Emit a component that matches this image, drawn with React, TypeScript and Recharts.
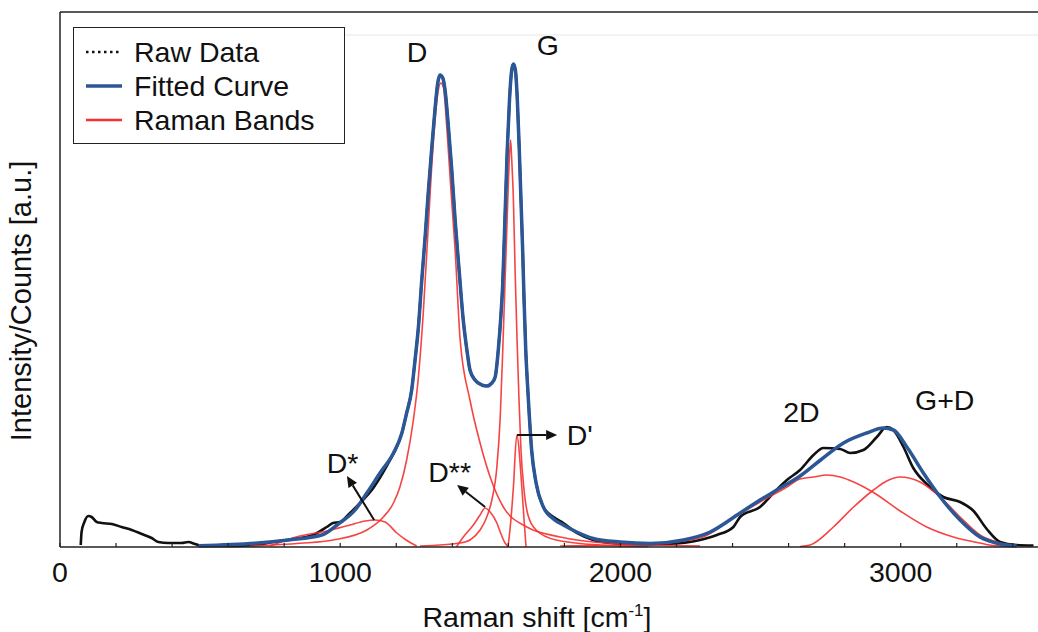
import { LineChart, Line, XAxis, YAxis, Legend, ReferenceLine, ReferenceDot } from "recharts";

const FONT = "'Liberation Sans', Arial, Helvetica, sans-serif";
const FS = 28.5;

// x axis: Raman shift in cm-1, minor tick every 200, label every 1000
const shiftTicks = [0, 200, 400, 600, 800, 1000, 1200, 1400, 1600, 1800, 2000, 2200, 2400, 2600, 2800, 3000, 3200, 3400];
const labelledTicks = [0, 1000, 2000, 3000];

// measured spectrum
const rawShift = [74, 77, 87, 101, 113, 131, 149, 185, 220, 256, 292, 327, 351, 387, 434, 458, 482, 506, 607, 696, 760, 832, 903, 952, 974, 999, 1035, 1071, 1118, 1178, 1202, 1220, 1237, 1255, 1267, 1279, 1291, 1303, 1314, 1327, 1338, 1348, 1356, 1366, 1374, 1386, 1398, 1410, 1425, 1439, 1452, 1463, 1481, 1505, 1523, 1541, 1553, 1564, 1573, 1580, 1588, 1596, 1604, 1612, 1618, 1625, 1632, 1639, 1645, 1651, 1656, 1662, 1668, 1675, 1683, 1699, 1725, 1761, 1796, 1844, 1903, 1963, 2070, 2165, 2284, 2344, 2403, 2427, 2498, 2546, 2594, 2641, 2689, 2724, 2784, 2820, 2867, 2915, 2950, 2974, 3010, 3045, 3093, 3152, 3212, 3260, 3307, 3355, 3414, 3474];
const rawCounts = [2, 15, 25, 31, 30, 25, 24, 23, 20, 17, 13, 9, 5, 4, 4, 5, 3, 1, 1, 2, 5, 8, 12, 20, 24, 25, 34, 44, 59, 87, 100, 114, 134, 157, 187, 220, 267, 310, 354, 400, 437, 464, 472, 469, 457, 420, 377, 327, 274, 227, 197, 177, 167, 162, 161, 164, 170, 197, 230, 264, 330, 397, 447, 477, 483, 477, 447, 397, 347, 297, 247, 197, 164, 130, 97, 64, 40, 30, 24, 14, 7, 4, 2.5, 3, 7, 12, 20, 30, 40, 54, 67, 77, 92, 99, 98, 94, 97, 110, 120, 117, 100, 79, 63, 50, 45, 36, 18, 5, 2, 1.5];

// fitted curve (sum of bands)
const fitShift = [494, 696, 815, 934, 993, 1053, 1095, 1142, 1190, 1220, 1237, 1255, 1267, 1279, 1291, 1303, 1314, 1327, 1338, 1348, 1356, 1366, 1374, 1386, 1398, 1410, 1425, 1439, 1452, 1463, 1481, 1505, 1523, 1541, 1553, 1564, 1573, 1580, 1588, 1596, 1604, 1612, 1618, 1625, 1632, 1639, 1645, 1651, 1656, 1662, 1668, 1675, 1683, 1699, 1725, 1761, 1796, 1844, 1903, 1999, 2106, 2225, 2320, 2427, 2498, 2558, 2641, 2712, 2796, 2879, 2938, 2974, 3022, 3081, 3141, 3212, 3283, 3355, 3414];
const fitCounts = [1.3, 3.7, 7, 12, 23, 37, 54, 74, 94, 114, 134, 157, 187, 220, 267, 310, 354, 400, 437, 464, 472, 469, 457, 420, 377, 327, 274, 227, 197, 177, 167, 162, 161, 164, 170, 197, 230, 264, 330, 397, 447, 477, 483, 477, 447, 397, 347, 297, 247, 197, 164, 130, 97, 64, 40, 28, 22, 15, 8.5, 5, 3.5, 7, 15, 34, 47, 57, 71, 86.5, 104, 114, 119, 117, 100, 74, 50, 27, 10, 3, 1];

// Raman bands
const dStarShift = [749, 856, 952, 1035, 1089, 1124, 1160, 1202, 1235, 1273];
const dStarCounts = [1, 11, 16, 22, 26, 27, 25, 14, 7, 1];

const dShift = [678, 856, 975, 1095, 1154, 1190, 1213, 1237, 1261, 1279, 1297, 1314, 1332, 1350, 1359, 1368, 1381, 1395, 1410, 1428, 1463, 1499, 1535, 1582, 1666, 1785, 1963, 2284];
const dCounts = [1, 3.7, 7, 17, 30, 44, 60, 87, 127, 170, 237, 320, 404, 457, 464, 460, 417, 357, 297, 207, 147, 104, 70, 40, 20, 10, 3.7, 1];

const dDoubleStarShift = [1415, 1439, 1475, 1499, 1517, 1535, 1559, 1571, 1588, 1599];
const dDoubleStarCounts = [0.3, 10, 22, 32, 39, 35, 24, 15, 4, 0.5];

const gShift = [1285, 1428, 1463, 1499, 1523, 1541, 1559, 1571, 1580, 1588, 1594, 1600, 1608, 1612, 1618, 1624, 1631, 1638, 1645, 1656, 1670, 1699, 1770, 1927, 2100];
const gCounts = [1, 4, 7, 17, 30, 47, 80, 130, 197, 264, 314, 364, 407, 387, 347, 277, 207, 147, 97, 57, 32, 17, 7, 2, 0.5];

const dPrimeShift = [1599, 1609, 1618, 1630, 1648, 1656, 1663];
const dPrimeCounts = [0.3, 27, 60, 112, 60, 27, 0.3];

const twoDShift = [1785, 2106, 2284, 2403, 2498, 2594, 2641, 2689, 2736, 2784, 2832, 2903, 2998, 3093, 3188, 3283, 3331, 3391];
const twoDCounts = [1, 3, 9, 29, 45, 60, 68, 70, 72, 70, 65, 54.5, 36, 20, 10, 4, 1.5, 0.5];

const gPlusDShift = [2641, 2677, 2760, 2832, 2903, 2950, 2998, 3069, 3141, 3212, 3283, 3355, 3402];
const gPlusDCounts = [0.5, 2, 20, 40, 57, 66, 70, 65, 50, 30, 12, 4, 1];

const zip = (xs: number[], ys: number[]) => xs.map((x, i) => ({ x, y: ys[i] }));

const bands = [
  zip(dStarShift, dStarCounts),
  zip(dShift, dCounts),
  zip(dDoubleStarShift, dDoubleStarCounts),
  zip(gShift, gCounts),
  zip(dPrimeShift, dPrimeCounts),
  zip(twoDShift, twoDCounts),
  zip(gPlusDShift, gPlusDCounts),
];

// band names written on the plot (x, y in data units, text starts there)
const bandLabels = [
  { text: "D", x: 1237, y: 485 },
  { text: "G", x: 1701, y: 492 },
  { text: "D*", x: 952, y: 74 },
  { text: "D**", x: 1314, y: 65 },
  { text: "D'", x: 1808, y: 102 },
  { text: "2D", x: 2581, y: 125 },
  { text: "G+D", x: 3051, y: 137 },
];

const arrows = [
  { x1: 1121, y1: 27, x2: 1024, y2: 71 },
  { x1: 1517, y1: 40, x2: 1417, y2: 62 },
  { x1: 1631, y1: 112, x2: 1774, y2: 112 },
];

const legendOrder = ["Raw Data", "Fitted Curve", "Raman Bands"];

const RAW = "#111";
const FIT = "#2b5797";
const BAND = "#f5302f";

function ShiftTick(props: any) {
  const { x, y, payload } = props;
  const major = labelledTicks.includes(payload.value);
  return (
    <g>
      <line x1={x} x2={x} y1={y} y2={y - 4} stroke="#222" strokeWidth={1.2} />
      {major && (
        <text x={x} y={y + 35} textAnchor="middle" fontSize={FS} fontFamily={FONT} fill="#111">
          {payload.value}
        </text>
      )}
    </g>
  );
}

function ArrowShape(props: any) {
  const { x1, y1, x2, y2 } = props;
  const ang = Math.atan2(y2 - y1, x2 - x1);
  const len = 11;
  const half = 5;
  const bx = x2 - len * Math.cos(ang);
  const by = y2 - len * Math.sin(ang);
  const px = -Math.sin(ang) * half;
  const py = Math.cos(ang) * half;
  return (
    <g>
      <line x1={x1} y1={y1} x2={bx} y2={by} stroke="#111" strokeWidth={2} />
      <polygon points={`${x2},${y2} ${bx + px},${by + py} ${bx - px},${by - py}`} fill="#111" />
    </g>
  );
}

function LegendBox(props: any) {
  const items = (props.payload || [])
    .filter((it: any) => legendOrder.includes(it.value))
    .sort((a: any, b: any) => legendOrder.indexOf(a.value) - legendOrder.indexOf(b.value));
  return (
    <div
      style={{
        width: 272,
        height: 117,
        boxSizing: "border-box",
        border: "1.5px solid #222",
        background: "#fff",
        paddingTop: 7,
        paddingLeft: 12,
        fontFamily: FONT,
        fontSize: FS,
        color: "#111",
      }}
    >
      {items.map((it: any) => (
        <div key={it.value} style={{ display: "flex", alignItems: "center", height: 34 }}>
          <svg width={36} height={8} style={{ marginRight: 12 }}>
            <line
              x1={0}
              x2={36}
              y1={4}
              y2={4}
              stroke={it.color}
              strokeWidth={it.value === "Fitted Curve" ? 3.5 : 2.5}
              strokeDasharray={it.value === "Raw Data" ? "2.5 3.5" : undefined}
            />
          </svg>
          <span>{it.value}</span>
        </div>
      ))}
    </div>
  );
}

export default function App() {
  return (
    <div style={{ position: "absolute", left: 0, top: 0, width: 1038, height: 632, overflow: "hidden", background: "#fff" }}>
      <LineChart width={1038} height={632} margin={{ top: 12, right: 0, bottom: 0, left: 59 }}>
        <XAxis
          type="number"
          dataKey="x"
          domain={[0, 3490]}
          ticks={shiftTicks}
          interval={0}
          allowDataOverflow
          height={85}
          tickSize={0}
          tickMargin={0}
          tickLine={false}
          tick={<ShiftTick />}
          axisLine={{ stroke: "#222", strokeWidth: 1.5 }}
          label={{
            content: (p: any) => {
              const vb = p.viewBox;
              return (
                <text x={vb.x + vb.width / 2 - 12} y={vb.y + 80} textAnchor="middle" fontSize={FS} fontFamily={FONT} fill="#111">
                  Raman shift [cm
                  <tspan fontSize={17} dy={-11}>-1</tspan>
                  <tspan dy={11}>]</tspan>
                </text>
              );
            },
          }}
        />
        <YAxis
          type="number"
          domain={[0, 535]}
          width={1}
          tick={false}
          tickLine={false}
          axisLine={false}
          label={{
            content: () => (
              <text
                x={31}
                y={301}
                transform="rotate(-90 31 301)"
                textAnchor="middle"
                fontSize={29}
                fontFamily={FONT}
                fill="#111"
              >
                Intensity/Counts [a.u.]
              </text>
            ),
          }}
        />
        <ReferenceLine y={535} stroke="#222" strokeWidth={1.5} />
        <ReferenceLine x={0} stroke="#222" strokeWidth={1.5} />
        <ReferenceLine segment={[{ x: 107, y: 512 }, { x: 3490, y: 512 }]} stroke="#e6e6e6" strokeWidth={1} />

        <Line
          data={zip(rawShift, rawCounts)}
          dataKey="y"
          name="Raw Data"
          type="monotone"
          stroke={RAW}
          strokeWidth={2.6}
          dot={false}
          isAnimationActive={false}
        />
        {bands.map((b, i) => (
          <Line
            key={i}
            data={b}
            dataKey="y"
            name={i === 0 ? "Raman Bands" : `band${i}`}
            legendType={i === 0 ? "line" : "none"}
            type="monotone"
            stroke={BAND}
            strokeWidth={1.6}
            strokeOpacity={0.9}
            dot={false}
            isAnimationActive={false}
          />
        ))}
        <Line
          data={zip(fitShift, fitCounts)}
          dataKey="y"
          name="Fitted Curve"
          type="monotone"
          stroke={FIT}
          strokeWidth={3.5}
          dot={false}
          isAnimationActive={false}
        />

        {arrows.map((a, i) => (
          <ReferenceLine
            key={`a${i}`}
            segment={[{ x: a.x1, y: a.y1 }, { x: a.x2, y: a.y2 }]}
            shape={(p: any) => <ArrowShape {...p} />}
          />
        ))}
        {bandLabels.map((l) => (
          <ReferenceDot
            key={l.text}
            x={l.x}
            y={l.y}
            r={0}
            shape={(p: any) => (
              <text x={p.cx} y={p.cy} fontSize={FS} fontFamily={FONT} fill="#111">
                {l.text}
              </text>
            )}
          />
        ))}

        <Legend
          layout="vertical"
          align="center"
          verticalAlign="middle"
          wrapperStyle={{ left: 73, top: 27, width: 272, height: 117 }}
          content={<LegendBox />}
        />
      </LineChart>
    </div>
  );
}
